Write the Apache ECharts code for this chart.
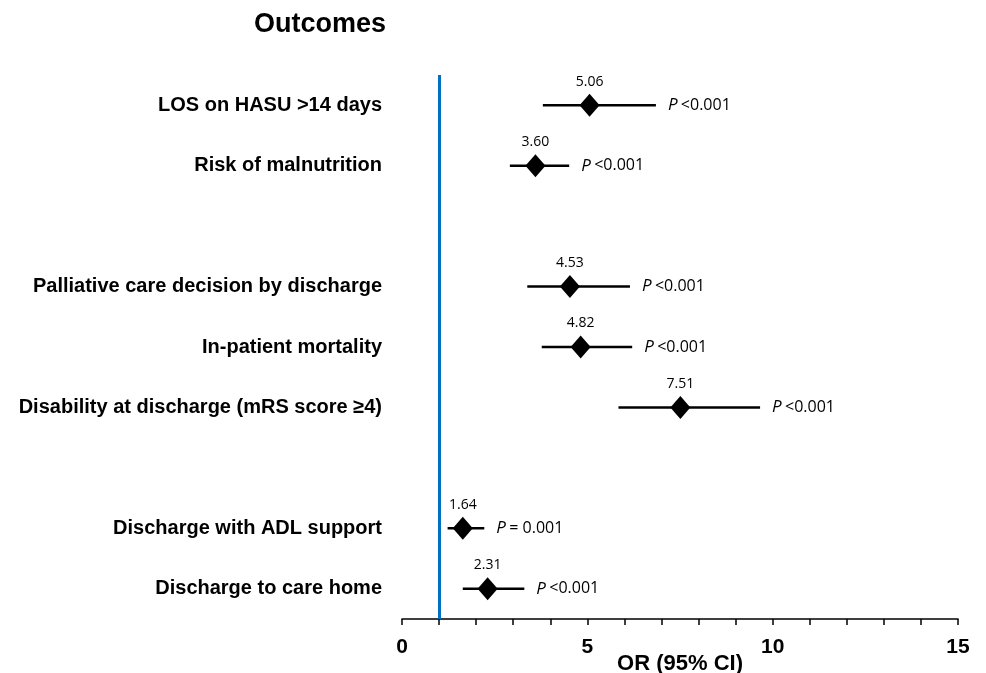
<!DOCTYPE html>
<html>
<head>
<meta charset="utf-8">
<script src="https://cdn.jsdelivr.net/npm/echarts@6/dist/echarts.min.js"></script>
<style>html,body{margin:0;padding:0;background:#fff}#c{width:986px;height:673px}</style>
</head>
<body>
<div id="c"></div>
<script>
var categories = ["LOS on HASU >14 days", "Risk of malnutrition", "", "Palliative care decision by discharge", "In-patient mortality", "Disability at discharge (mRS score \u22654)", "", "Discharge with ADL support", "Discharge to care home"];
var orValues = [5.06, 3.60, null, 4.53, 4.82, 7.51, null, 1.64, 2.31];
var ciLow = [3.80, 2.91, null, 3.38, 3.77, 5.84, null, 1.23, 1.64];
var ciHigh = [6.85, 4.51, null, 6.15, 6.21, 9.66, null, 2.22, 3.30];
var pLabels = ["<0.001", "<0.001", null, "<0.001", "<0.001", "<0.001", null, "= 0.001", "<0.001"];
var xTicks = [0, 5, 10, 15];
var refLine = 1;

var chart = echarts.init(document.getElementById('c'), null, {renderer: 'canvas'});

var pointData = [], ciData = [], pData = [];
categories.forEach(function (c, i) {
  if (orValues[i] != null) {
    pointData.push([orValues[i], i]);
    ciData.push([ciLow[i], ciHigh[i], i]);
    pData.push({value: [ciHigh[i], i], p: pLabels[i]});
  }
});

chart.setOption({
  animation: false,
  title: {
    text: 'Outcomes', left: 249, top: 6,
    textStyle: {fontFamily: 'Liberation Sans', fontWeight: 'bold', fontSize: 27, color: '#000'}
  },
  grid: {left: 402, right: 28, top: 75, bottom: 54, containLabel: false, outerBoundsMode: 'none'},
  xAxis: {
    type: 'value', min: xTicks[0], max: xTicks[xTicks.length - 1], interval: 5,
    name: 'OR (95% CI)', nameLocation: 'middle', nameGap: 34, nameMoveOverlap: false,
    nameTextStyle: {fontFamily: 'Liberation Sans', fontWeight: 'bold', fontSize: 22, color: '#000'},
    axisLine: {show: true, lineStyle: {color: '#000', width: 1.5}},
    axisTick: {show: true, length: 6, lineStyle: {color: '#000', width: 1.5}},
    minorTick: {show: true, splitNumber: 5, length: 6, lineStyle: {color: '#000', width: 1.5}},
    splitLine: {show: false},
    axisLabel: {fontFamily: 'Liberation Sans', fontWeight: 'bold', fontSize: 21, color: '#000', margin: 18}
  },
  yAxis: {
    type: 'category', data: categories, inverse: true,
    axisLine: {show: false}, axisTick: {show: false}, splitLine: {show: false},
    axisLabel: {fontFamily: 'Liberation Sans', fontWeight: 'bold', fontSize: 20, color: '#000', margin: 20}
  },
  series: [
    {
      type: 'custom',
      data: ciData,
      encode: {x: [0, 1], y: 2},
      renderItem: function (params, api) {
        var a = api.coord([api.value(0), api.value(2)]);
        var b = api.coord([api.value(1), api.value(2)]);
        return {type: 'line', shape: {x1: a[0], y1: a[1], x2: b[0], y2: b[1]},
          style: {stroke: '#000', lineWidth: 2.5}};
      },
      z: 2
    },
    {
      type: 'scatter',
      data: pointData,
      symbol: 'diamond', symbolSize: [20, 23],
      itemStyle: {color: '#000', opacity: 1},
      label: {show: true, position: 'top', distance: 5, formatter: function (p) { return p.value[0].toFixed(2); },
        fontFamily: 'Open Sans', fontSize: 14, color: '#000'},
      z: 3,
      markLine: {
        silent: true, symbol: 'none', label: {show: false},
        lineStyle: {color: '#0070C0', width: 3, type: 'solid'},
        data: [{xAxis: refLine}]
      }
    },
    {
      type: 'scatter',
      data: pData,
      symbolSize: 0,
      itemStyle: {color: '#000', opacity: 1},
      label: {show: true, position: 'right', distance: 12, color: '#000',
        formatter: function (p) { return '{i|P} {n|' + p.data.p + '}'; },
        rich: {
          i: {fontFamily: 'Open Sans', fontStyle: 'italic', fontSize: 17, color: '#000'},
          n: {fontFamily: 'Open Sans', fontSize: 16, color: '#000'}
        }
      },
      z: 3
    }
  ]
});
</script>
</body>
</html>
